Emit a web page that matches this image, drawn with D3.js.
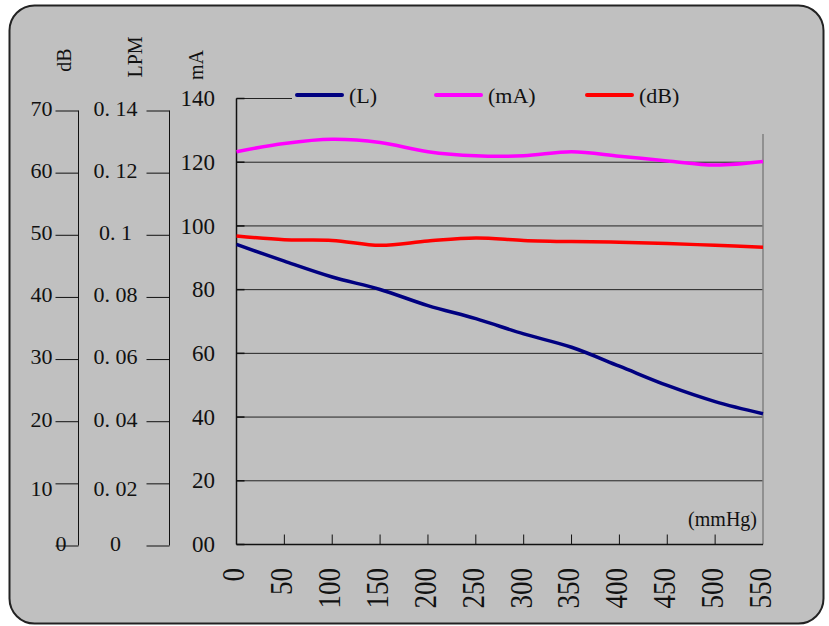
<!DOCTYPE html>
<html>
<head>
<meta charset="utf-8">
<script src="https://cdn.jsdelivr.net/npm/d3@7"></script>
<style>
  body { margin: 0; background: #fff; }
  text { font-family: "Liberation Serif", "DejaVu Serif", serif; fill: #111; }
</style>
</head>
<body>
<div id="chart"></div>
<script>
// datos
const pressure = [0, 50, 100, 150, 200, 250, 300, 350, 400, 450, 500, 550];
const flowLPM = [0.0969, 0.0915, 0.0864, 0.0824, 0.0772, 0.0730, 0.0681, 0.0638, 0.0577, 0.0515, 0.0463, 0.0424];
const currentMA = [123.3, 125.9, 127.2, 126.2, 123.3, 122.0, 122.0, 123.3, 121.9, 120.4, 119.1, 120.2];
const noiseDB = [49.8, 49.2, 49.1, 48.3, 49.0, 49.5, 49.1, 48.9, 48.8, 48.6, 48.3, 48.0];

const xTicks = [0, 50, 100, 150, 200, 250, 300, 350, 400, 450, 500, 550];
const mATicks = [0, 20, 40, 60, 80, 100, 120, 140];
const mALabels = ["00", "20", "40", "60", "80", "100", "120", "140"];
const dBTicks = [0, 10, 20, 30, 40, 50, 60, 70];
const lpmTicks = [0, 0.02, 0.04, 0.06, 0.08, 0.1, 0.12, 0.14];
const lpmLabels = ["0", "0. 02", "0. 04", "0. 06", "0. 08", "0. 1", "0. 12", "0. 14"];

const seriesNames = ["(L)", "(mA)", "(dB)"];
const seriesColors = ["#000080", "#ff00ff", "#ff0000"];

const width = 829, height = 626;

const svg = d3.select("#chart").append("svg")
    .attr("width", width)
    .attr("height", height);

// escalas
const x = d3.scaleLinear().domain([0, 550]).range([236.5, 763]);
const yMA = d3.scaleLinear().domain([0, 140]).range([544.5, 98.5]);
const yDB = d3.scaleLinear().domain([0, 70]).range([545.5, 110.5]);
const yLPM = d3.scaleLinear().domain([0, 0.14]).range([545.5, 110.5]);

// marco redondeado
svg.append("rect")
    .attr("x", 9.5).attr("y", 5.5)
    .attr("width", 814).attr("height", 618)
    .attr("rx", 25).attr("ry", 25)
    .attr("fill", "#c0c0c0")
    .attr("stroke", "#222")
    .attr("stroke-width", 2);

// lineas de grilla
svg.append("g")
  .selectAll("line")
  .data(mATicks.filter(d => d > 0))
  .join("line")
    .attr("x1", x(0)).attr("x2", x(550))
    .attr("y1", d => yMA(d)).attr("y2", d => yMA(d))
    .attr("stroke", "#222")
    .attr("stroke-width", 1);

// borde derecho
svg.append("line")
    .attr("x1", x(550)).attr("x2", x(550))
    .attr("y1", yMA(0)).attr("y2", yMA(140))
    .attr("stroke", "#808080")
    .attr("stroke-width", 1.5);

// eje x
svg.append("line")
    .attr("x1", x(0)).attr("x2", x(550))
    .attr("y1", yMA(0)).attr("y2", yMA(0))
    .attr("stroke", "#111").attr("stroke-width", 1.5);

svg.append("g")
  .selectAll("line")
  .data(xTicks.filter(d => d > 0 && d < 550))
  .join("line")
    .attr("x1", d => x(d)).attr("x2", d => x(d))
    .attr("y1", yMA(0)).attr("y2", yMA(0) - 10)
    .attr("stroke", "#111");

svg.append("g")
  .selectAll("text")
  .data(xTicks)
  .join("text")
    .attr("transform", d => `translate(${x(d)},568) rotate(-90) scale(1,1.2)`)
    .attr("text-anchor", "end")
    .attr("dy", 6.6)
    .style("font-size", "27px")
    .text(d => d);

// eje mA
svg.append("line")
    .attr("x1", x(0)).attr("x2", x(0))
    .attr("y1", yMA(0)).attr("y2", yMA(140))
    .attr("stroke", "#111").attr("stroke-width", 1.5);

svg.append("g")
  .selectAll("line")
  .data(mATicks)
  .join("line")
    .attr("x1", x(0)).attr("x2", x(0) + 8)
    .attr("y1", d => yMA(d)).attr("y2", d => yMA(d))
    .attr("stroke", "#111").attr("stroke-width", 1.5);

svg.append("g")
  .selectAll("text")
  .data(mATicks)
  .join("text")
    .attr("x", 215)
    .attr("y", d => yMA(d))
    .attr("dy", "0.33em")
    .attr("text-anchor", "end")
    .style("font-size", "23px")
    .text((d, i) => mALabels[i]);

// eje dB
const dbAxis = svg.append("g")
    .attr("transform", "translate(78.5,0)")
    .call(d3.axisLeft(yDB).tickValues(dBTicks).tickSize(23).tickPadding(3).tickFormat(d => d));
dbAxis.select(".domain").attr("d", `M0,${yDB(0)}V${yDB(70)}`).attr("stroke", "#111");
dbAxis.selectAll(".tick line").attr("stroke", "#111");
dbAxis.selectAll(".tick text")
    .attr("fill", "#111")
    .style("font-family", "'Liberation Serif', 'DejaVu Serif', serif")
    .style("font-size", "22px")
    .attr("dy", d => d === 10 ? "0.55em" : "0.22em")
    .filter(d => d === 0)
    .attr("text-anchor", "start")
    .attr("x", -23);

// eje LPM
const lpmAxis = svg.append("g")
    .attr("transform", "translate(169.5,0)")
    .call(d3.axisLeft(yLPM).tickValues(lpmTicks).tickSize(23).tickFormat((d, i) => lpmLabels[i]));
lpmAxis.select(".domain").attr("d", `M0,${yLPM(0)}V${yLPM(0.14)}`).attr("stroke", "#111");
lpmAxis.selectAll(".tick line").attr("stroke", "#111");
lpmAxis.selectAll(".tick text")
    .attr("fill", "#111")
    .attr("text-anchor", "middle")
    .attr("x", -54)
    .attr("dy", d => d === 0.02 ? "0.55em" : "0.22em")
    .style("font-family", "'Liberation Serif', 'DejaVu Serif', serif")
    .style("font-size", "22px");

// titulos de los ejes
const titles = [["dB", 71, 60], ["LPM", 142, 57], ["mA", 203, 65]];
svg.append("g")
  .selectAll("text")
  .data(titles)
  .join("text")
    .attr("transform", d => `translate(${d[1]},${d[2]}) rotate(-90)`)
    .attr("text-anchor", "middle")
    .style("font-size", "20px")
    .text(d => d[0]);

// series
const lineGen = (yScale, values) => d3.line()
    .x((d, i) => x(pressure[i]))
    .y(d => yScale(d))
    .curve(d3.curveCatmullRom.alpha(0.5))(values);

const series = [
  { values: flowLPM, scale: yLPM },
  { values: currentMA, scale: yMA },
  { values: noiseDB, scale: yDB }
];

svg.append("g")
  .selectAll("path")
  .data(series)
  .join("path")
    .attr("d", d => lineGen(d.scale, d.values))
    .attr("fill", "none")
    .attr("stroke", (d, i) => seriesColors[i])
    .attr("stroke-width", 3.5)
    .attr("stroke-linejoin", "round");

// leyenda (tapa la grilla superior)
svg.append("rect")
    .attr("x", 292).attr("y", 80)
    .attr("width", 480).attr("height", 54)
    .attr("fill", "#c0c0c0");

const legendX = [297, 436, 587];
const legend = svg.append("g")
  .selectAll("g")
  .data(seriesNames)
  .join("g")
    .attr("transform", (d, i) => `translate(${legendX[i]},95)`);

legend.append("line")
    .attr("x1", 0).attr("x2", 45)
    .attr("stroke", (d, i) => seriesColors[i])
    .attr("stroke-width", 4)
    .attr("stroke-linecap", "round");

legend.append("text")
    .attr("x", 52)
    .attr("dy", "0.35em")
    .style("font-size", "22px")
    .text(d => d);

// unidad eje x
svg.append("text")
    .attr("x", 757).attr("y", 519)
    .attr("dy", "0.35em")
    .attr("text-anchor", "end")
    .style("font-size", "20px")
    .text("(mmHg)");
</script>
</body>
</html>
